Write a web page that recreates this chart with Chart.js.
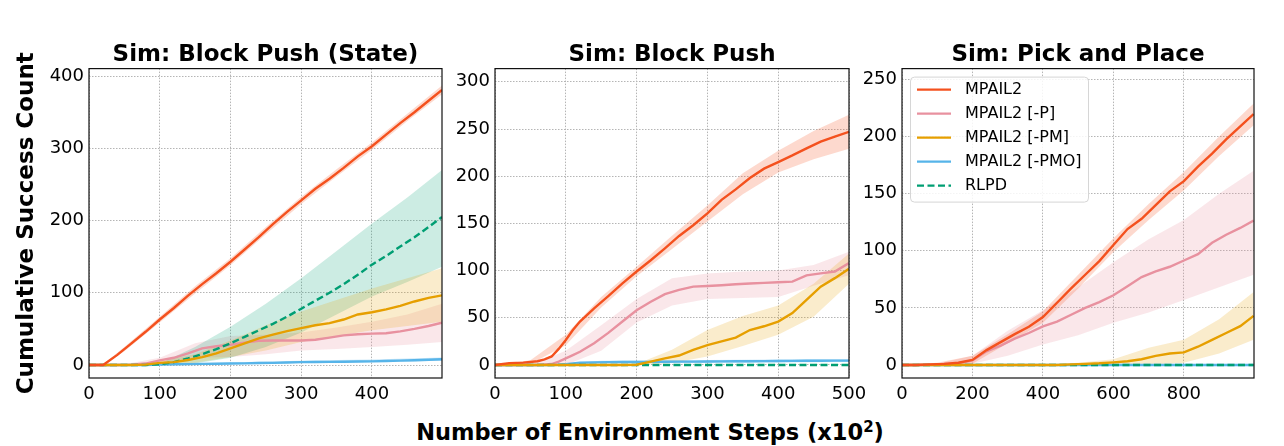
<!DOCTYPE html>
<html>
<head>
<meta charset="utf-8">
<script src="https://cdn.jsdelivr.net/npm/chart.js@4.4.1/dist/chart.umd.min.js"></script>
<style>
	body { margin: 0; background: #fff; }
	#wrap { position: relative; width: 1284px; height: 446px; overflow: hidden; font-family: 'DejaVu Sans', sans-serif; }
	canvas { position: absolute; top: 30px; }
	#xlabel { position: absolute; left: 0; width: 1300px; top: 419px; line-height: 26px; text-align: center; font-weight: bold; font-size: 22.5px; color: #000; }
	#xlabel span { font-size: 15px; position: relative; top: -8px; }
</style>
</head>
<body>
<div id="wrap">
	<canvas id="c1" width="455" height="380" style="left:0px"></canvas>
	<canvas id="c2" width="420" height="380" style="left:450px"></canvas>
	<canvas id="c3" width="427" height="380" style="left:857px"></canvas>
	<div id="xlabel">Number of Environment Steps (x10<span>2</span>)</div>
</div>
<script>
	// series
	const seriesNames = ['MPAIL2', 'MPAIL2 [-P]', 'MPAIL2 [-PM]', 'MPAIL2 [-PMO]', 'RLPD'];
	const seriesColors = ['#f4511e', '#e8919f', '#e69f00', '#56b4e9', '#009e73'];
	const bandColors = ['rgba(244,81,30,0.22)', 'rgba(232,145,159,0.22)', 'rgba(230,159,0,0.2)', 'rgba(86,180,233,0.3)', 'rgba(0,158,115,0.2)'];

	// Sim: Block Push (State)
	const p1Steps = [0, 20, 40, 60, 80, 100, 120, 140, 160, 180, 200, 220, 240, 260, 280, 300, 320, 340, 360, 380, 400, 420, 440, 460, 480, 499];
	const p1Mpail2 = [0, 0, 14, 30, 46, 63, 79, 96, 112, 127, 143, 160, 177, 195, 212, 228, 244, 258, 273, 289, 303, 319, 335, 350, 366, 381];
	const p1NoP = [0, 0, 0, 0.5, 2, 6.5, 10, 16, 23, 26, 28, 31, 33.5, 34, 34, 34, 35, 38, 41, 42.5, 43.5, 44, 46.5, 50, 54, 58.5];
	const p1NoPM = [0, 0, 0, 0, 0.5, 3, 4, 7, 11, 16, 23, 30, 37, 42, 47, 51, 55, 58, 63, 70, 73, 77, 82, 88, 93, 96.5];
	const p1NoPMO = [0, 0, 0, 0, 0, 0.5, 1, 1.2, 1.5, 1.8, 2, 2.3, 2.7, 3, 3.5, 4, 4.2, 4.4, 4.6, 4.8, 5, 5.5, 6, 6.5, 7.2, 8];
	const p1Rlpd = [0, 0, 0, 0, 0, 1, 4, 9, 15, 22, 30, 39, 48, 57, 67, 78, 89, 100, 112, 125, 139, 151, 164, 177, 191, 205];
	const p1BandSteps = [0, 20, 50, 100, 150, 200, 250, 300, 350, 400, 450, 499];
	const p1Mpail2Lo = [0, 0, 19, 59, 99, 138, 181, 223, 261, 298, 338, 375];
	const p1Mpail2Hi = [0, 1, 25, 67, 109, 148, 191, 233, 271, 308, 348, 387];
	const p1NoPLo = [0, 0, 0, 0, 10, 11, 15, 20, 22, 25, 28, 32];
	const p1NoPHi = [0, 0, 1, 10, 30, 40, 42, 45, 52, 60, 70, 85];
	const p1NoPMLo = [0, 0, 0, 0, 3, 11, 20, 32, 40, 48, 54, 60];
	const p1NoPMHi = [0, 0, 0, 5, 15, 34, 55, 74, 90, 106, 120, 134];
	const p1NoPMOLo = [0, 0, 0, 0, 0.5, 1, 2, 3, 3.5, 4, 5, 6];
	const p1NoPMOHi = [0, 0, 0, 1, 2.5, 3.5, 5, 6, 7, 7.5, 9, 10.5];
	const p1RlpdLo = [0, 0, 0, 0, 2, 10, 25, 45, 70, 95, 115, 136];
	const p1RlpdHi = [0, 0, 0, 2, 25, 53, 85, 120, 158, 196, 232, 270];
	const p1XTicks = [0, 100, 200, 300, 400];
	const p1YTicks = [0, 100, 200, 300, 400];

	// Sim: Block Push
	const p2Steps = [0, 20, 40, 60, 70, 80, 90, 100, 110, 120, 140, 160, 180, 200, 220, 240, 260, 280, 300, 320, 340, 360, 380, 400, 420, 440, 460, 480, 500];
	const p2Mpail2 = [0, 2, 2.5, 4, 6, 9, 17, 26.5, 37, 46, 60, 73, 86.5, 99, 111, 123.6, 136.7, 148, 160.7, 175, 186, 198, 208, 215, 222, 229.5, 236.6, 242, 247];
	const p2NoP = [0, 0, 0, 0, 0.5, 1, 3.5, 7, 10.5, 14, 23, 34, 46, 58, 67, 75, 79.5, 83, 83.7, 84.5, 85.5, 86.3, 87, 87.6, 88.3, 95, 97, 99, 108];
	const p2NoPM = [0, 0, 0, 0, 0, 0, 0, 0, 0, 0, 0, 0, 0, 0.3, 3.5, 7, 10, 16, 21, 25, 29, 37, 41, 46, 55, 69, 83, 92, 102];
	const p2NoPMO = [0, 0, 0, 0, 0, 0, 0.3, 0.7, 1.5, 2.3, 2.8, 3, 3.1, 3.2, 3.3, 3.4, 3.5, 3.6, 3.7, 3.8, 3.9, 4, 4.1, 4.2, 4.3, 4.4, 4.5, 4.6, 4.6];
	const p2Rlpd = [0, 0, 0, 0, 0, 0, 0, 0, 0, 0, 0, 0, 0, 0, 0, 0, 0, 0, 0, 0, 0, 0, 0, 0, 0, 0, 0, 0, 0];
	const p2BandSteps = [0, 50, 100, 150, 200, 250, 300, 350, 400, 450, 500];
	const p2Mpail2Lo = [0, 1, 21, 61, 94, 123, 152, 181, 204, 218, 229];
	const p2Mpail2Hi = [0, 5, 32, 72, 104, 137, 169, 203, 227, 248, 265];
	const p2NoPLo = [0, 0, 0, 15, 45, 63, 70, 71, 72, 84, 95];
	const p2NoPHi = [0, 0, 15, 42, 70, 92, 97, 99, 100, 106, 120];
	const p2NoPMLo = [0, 0, 0, 0, 0, 2, 9, 20, 32, 51, 86];
	const p2NoPMHi = [0, 0, 0, 0, 1, 16, 37, 52, 63, 86, 118];
	const p2NoPMOLo = [0, 0, 0, 1.5, 1.7, 2, 2.2, 2.4, 2.7, 2.9, 3.1];
	const p2NoPMOHi = [0, 0, 1.5, 4.5, 4.7, 5, 5.2, 5.5, 5.7, 6, 6.1];
	const p2RlpdLo = [0, 0, 0, 0, 0, 0, 0, 0, 0, 0, 0];
	const p2RlpdHi = [0, 0, 0, 0, 0, 0, 0, 0, 0, 0, 0];
	const p2XTicks = [0, 100, 200, 300, 400, 500];
	const p2YTicks = [0, 50, 100, 150, 200, 250, 300];

	// Sim: Pick and Place
	const p3Steps = [0, 40, 80, 120, 160, 200, 240, 280, 320, 360, 400, 440, 480, 520, 560, 600, 640, 680, 720, 760, 800, 840, 880, 920, 960, 998];
	const p3Mpail2 = [0, 0, 0.5, 1, 2, 4.4, 13, 20, 27, 33.5, 42, 54.5, 67, 79, 91, 105, 119, 128, 140, 152, 161, 173.6, 185, 197.5, 209, 219.7];
	const p3NoP = [0, 0, 0.3, 0.8, 1.5, 4, 12, 17, 23, 28, 33.8, 38, 44, 50, 55, 61, 69, 77, 82, 86, 91.5, 97, 107, 114, 120, 126.5];
	const p3NoPM = [0, 0, 0, 0, 0, 0, 0, 0, 0, 0, 0, 0, 0.5, 1, 1.5, 2.3, 3.3, 5, 8, 10, 11, 16, 22, 28, 34, 43];
	const p3NoPMO = [0, 0, 0, 0, 0, 0, 0, 0, 0, 0, 0, 0, 0, 0, 0, 0, 0, 0, 0, 0, 0, 0, 0, 0, 0, 0];
	const p3Rlpd = [0, 0, 0, 0, 0, 0, 0, 0, 0, 0, 0, 0, 0, 0, 0, 0, 0, 0, 0, 0, 0, 0, 0, 0, 0, 0];
	const p3BandSteps = [0, 100, 200, 300, 400, 500, 600, 700, 800, 900, 998];
	const p3Mpail2Lo = [0, 0, 1, 19, 37, 67, 99, 127, 153, 183, 210];
	const p3Mpail2Hi = [0, 2, 8, 27, 47, 79, 111, 141, 169, 200, 229];
	const p3NoPLo = [0, 0, 1, 8, 18, 26, 37, 46, 57, 68, 79];
	const p3NoPHi = [0, 1, 8, 30, 48, 68, 90, 110, 127, 150, 170];
	const p3NoPMLo = [0, 0, 0, 0, 0, 0, 0, 0, 2, 10, 22];
	const p3NoPMHi = [0, 0, 0, 0, 0, 2, 5, 15, 22, 40, 64];
	const p3NoPMOLo = [0, 0, 0, 0, 0, 0, 0, 0, 0, 0, 0];
	const p3NoPMOHi = [0, 0, 0, 0, 0, 0, 0, 0, 0, 0, 0];
	const p3RlpdLo = [0, 0, 0, 0, 0, 0, 0, 0, 0, 0, 0];
	const p3RlpdHi = [0, 0, 0, 0, 0, 0, 0, 0, 0, 0, 0];
	const p3XTicks = [0, 200, 400, 600, 800];
	const p3YTicks = [0, 50, 100, 150, 200, 250];

	Chart.defaults.font.family = "'DejaVu Sans', sans-serif";
	Chart.defaults.color = '#000';

	function pts(xs, ys) {
		return xs.map((x, i) => ({ x: x, y: ys[i] }));
	}

	// MPAIL2 on top, then -PM, RLPD, -P, -PMO at the bottom
	const zRank = [0, 3, 1, 4, 2];

	function buildDatasets(steps, means, bandSteps, los, his) {
		const ds = [];
		means.forEach((m, i) => {
			ds.push({ label: '_lo', data: pts(bandSteps, los[i]), borderWidth: 0, borderColor: 'transparent', pointRadius: 0, fill: false, order: 20 + zRank[i] });
			ds.push({ label: '_hi', data: pts(bandSteps, his[i]), borderWidth: 0, borderColor: 'transparent', pointRadius: 0, fill: '-1', backgroundColor: bandColors[i], order: 20 + zRank[i] });
			ds.push({
				label: seriesNames[i], data: pts(steps, m), borderColor: seriesColors[i], backgroundColor: seriesColors[i],
				borderWidth: 2.4, pointRadius: 0, fill: false, tension: 0, borderDash: i === 4 ? [7, 3.5] : [], order: zRank[i]
			});
		});
		return ds;
	}

	// black box round the plot area, like matplotlib spines
	const framePlugin = {
		id: 'frame',
		afterDatasetsDraw(chart) {
			const a = chart.chartArea, ctx = chart.ctx;
			ctx.save();
			ctx.strokeStyle = '#111';
			ctx.lineWidth = 1.2;
			ctx.strokeRect(a.left, a.top, a.right - a.left, a.bottom - a.top);
			ctx.restore();
		}
	};

	// legend box in the upper left of the plot area
	const boxLegend = {
		id: 'boxLegend',
		afterDraw(chart) {
			const a = chart.chartArea, ctx = chart.ctx;
			const items = chart.data.datasets.filter(d => d.label[0] !== '_');
			const bx = a.left + 8, by = a.top + 8, bw = 178, bh = 125;
			ctx.save();
			ctx.beginPath();
			ctx.roundRect(bx + 0.5, by + 0.5, bw, bh, 4);
			ctx.fillStyle = 'rgba(255,255,255,0.85)';
			ctx.fill();
			ctx.strokeStyle = '#d6d6d6';
			ctx.lineWidth = 1;
			ctx.stroke();
			ctx.font = "16px 'DejaVu Sans'";
			ctx.textBaseline = 'middle';
			ctx.fillStyle = '#000';
			items.forEach((d, i) => {
				const y = by + 13 + 24 * i;
				ctx.beginPath();
				ctx.setLineDash(d.borderDash || []);
				ctx.strokeStyle = d.borderColor;
				ctx.lineWidth = 2.4;
				ctx.moveTo(bx + 7, y);
				ctx.lineTo(bx + 41, y);
				ctx.stroke();
				ctx.setLineDash([]);
				ctx.fillText(d.label, bx + 55, y);
			});
			ctx.restore();
		}
	};

	function makePanel(id, p) {
		return new Chart(document.getElementById(id), {
			type: 'line',
			data: { datasets: buildDatasets(p.steps, p.means, p.bandSteps, p.los, p.his) },
			plugins: p.legend ? [framePlugin, boxLegend] : [framePlugin],
			options: {
				responsive: false,
				animation: false,
				events: [],
				layout: { padding: { left: 0, right: p.padRight, top: 0, bottom: 0 } },
				plugins: {
					legend: { display: false },
					tooltip: { enabled: false },
					title: {
						display: true, text: p.title, fullSize: false, color: '#000',
						font: { size: 23, weight: 'bold', lineHeight: 1.2 },
						padding: { top: 11, bottom: 0 }
					}
				},
				scales: {
					x: {
						type: 'linear', min: p.xMin, max: p.xMax,
						ticks: { font: { size: 18 }, padding: 6, maxRotation: 0 },
						afterBuildTicks(s) { s.ticks = p.xTicks.map(v => ({ value: v })); },
						grid: { color: '#b5b5b5', lineWidth: 1, drawTicks: false },
						border: { display: false, dash: [1.5, 1.5] },
						afterFit(s) { s.height = 32; s.paddingLeft = 0; s.paddingRight = 0; }
					},
					y: {
						type: 'linear', min: p.yMin, max: p.yMax,
						ticks: { font: { size: 18 }, padding: 5 },
						afterBuildTicks(s) { s.ticks = p.yTicks.map(v => ({ value: v })); },
						grid: { color: '#b5b5b5', lineWidth: 1, drawTicks: false },
						border: { display: false, dash: [1.5, 1.5] },
						title: {
							display: !!p.yTitle, text: p.yTitle || '', color: '#000',
							font: { size: 23, weight: 'bold', lineHeight: 1.2 },
							padding: { top: 13, bottom: 0 }
						},
						afterFit(s) { s.width = p.yWidth; s.paddingTop = 0; s.paddingBottom = 0; }
					}
				}
			}
		});
	}

	makePanel('c1', {
		title: 'Sim: Block Push (State)', yTitle: 'Cumulative Success Count', yWidth: 89, padRight: 13,
		xMin: 0, xMax: 499, yMin: -18, yMax: 410.5, xTicks: p1XTicks, yTicks: p1YTicks,
		steps: p1Steps, means: [p1Mpail2, p1NoP, p1NoPM, p1NoPMO, p1Rlpd],
		bandSteps: p1BandSteps,
		los: [p1Mpail2Lo, p1NoPLo, p1NoPMLo, p1NoPMOLo, p1RlpdLo],
		his: [p1Mpail2Hi, p1NoPHi, p1NoPMHi, p1NoPMOHi, p1RlpdHi]
	});

	makePanel('c2', {
		title: 'Sim: Block Push', yWidth: 45, padRight: 21,
		xMin: 0, xMax: 500, yMin: -13.8, yMax: 314, xTicks: p2XTicks, yTicks: p2YTicks,
		steps: p2Steps, means: [p2Mpail2, p2NoP, p2NoPM, p2NoPMO, p2Rlpd],
		bandSteps: p2BandSteps,
		los: [p2Mpail2Lo, p2NoPLo, p2NoPMLo, p2NoPMOLo, p2RlpdLo],
		his: [p2Mpail2Hi, p2NoPHi, p2NoPMHi, p2NoPMOHi, p2RlpdHi]
	});

	makePanel('c3', {
		title: 'Sim: Pick and Place', yWidth: 45, padRight: 30, legend: true,
		xMin: 0, xMax: 999, yMin: -11.4, yMax: 259.5, xTicks: p3XTicks, yTicks: p3YTicks,
		steps: p3Steps, means: [p3Mpail2, p3NoP, p3NoPM, p3NoPMO, p3Rlpd],
		bandSteps: p3BandSteps,
		los: [p3Mpail2Lo, p3NoPLo, p3NoPMLo, p3NoPMOLo, p3RlpdLo],
		his: [p3Mpail2Hi, p3NoPHi, p3NoPMHi, p3NoPMOHi, p3RlpdHi]
	});
</script>
</body>
</html>
